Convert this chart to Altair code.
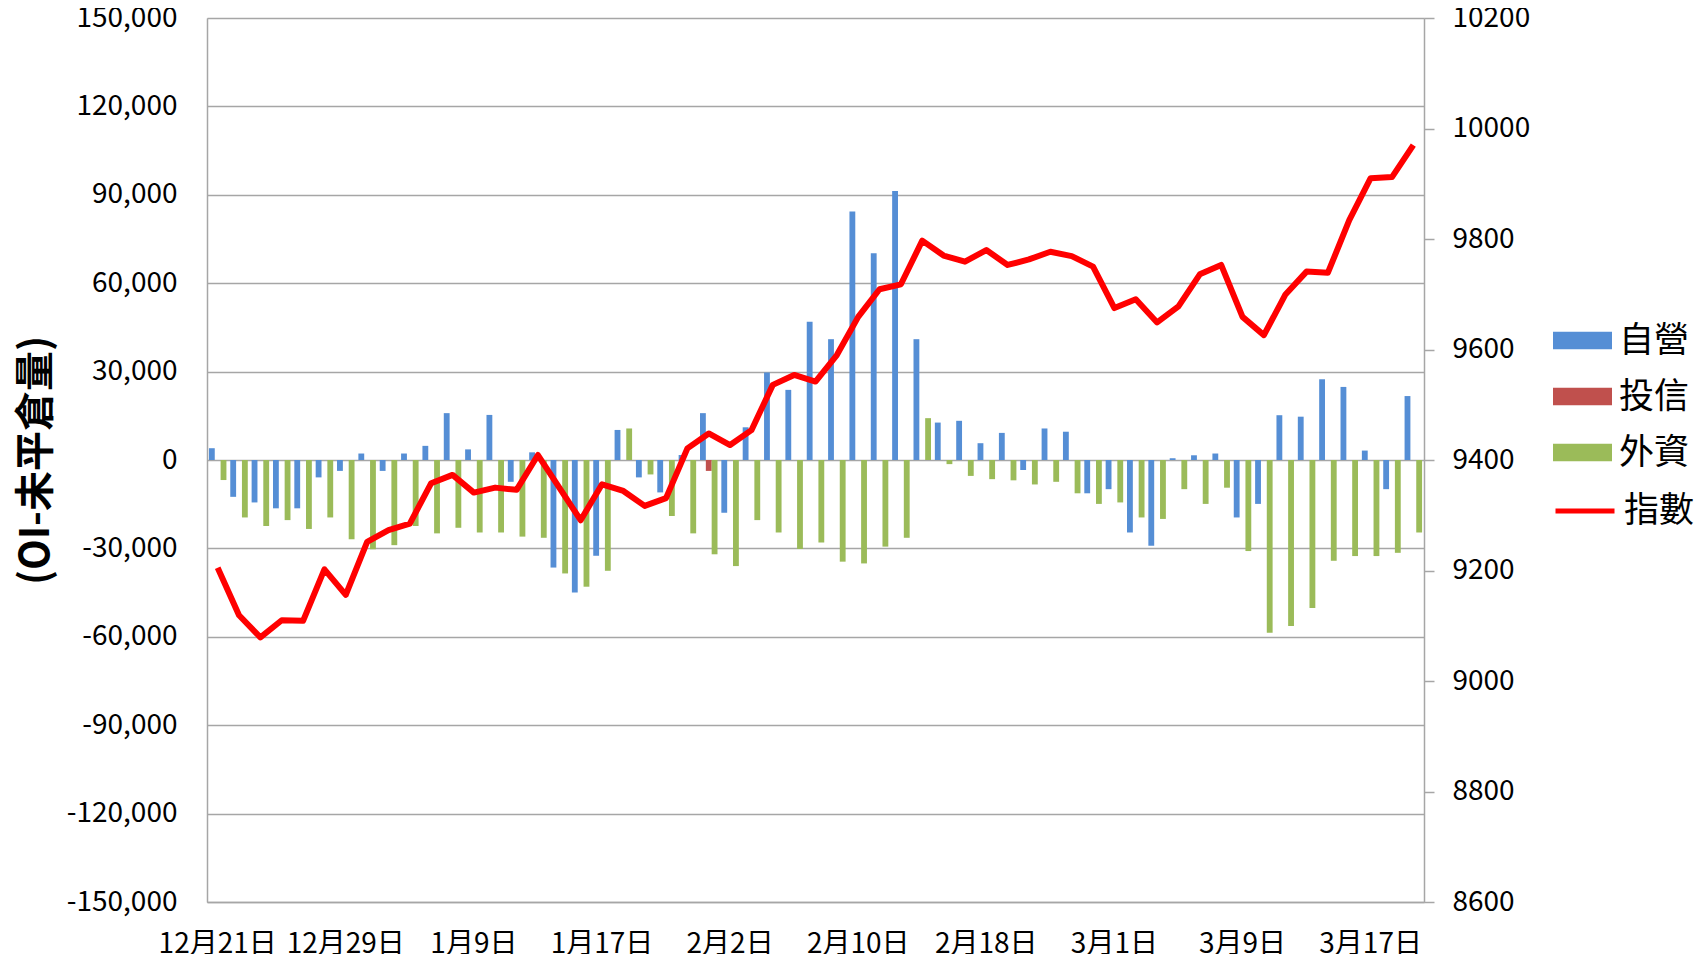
import altair as alt
import pandas as pd

dates = ["12月21日", "12月22日", "12月23日", "12月26日", "12月27日", "12月28日", "12月29日",
         "12月30日", "1月3日", "1月4日", "1月5日", "1月6日", "1月9日", "1月10日",
         "1月11日", "1月12日", "1月13日", "1月16日", "1月17日", "1月18日", "1月19日",
         "1月20日", "1月23日", "1月24日", "2月2日", "2月3日", "2月6日", "2月7日",
         "2月8日", "2月9日", "2月10日", "2月13日", "2月14日", "2月15日", "2月16日",
         "2月17日", "2月18日", "2月20日", "2月21日", "2月22日", "2月23日", "2月24日",
         "3月1日", "3月2日", "3月3日", "3月6日", "3月7日", "3月8日", "3月9日",
         "3月10日", "3月13日", "3月14日", "3月15日", "3月16日", "3月17日", "3月20日", "3月21日"]

dealer = [4000, -12500, -14400, -16400, -16400, -5900, -3700, 2200, -3700, 2200,
          4800, 15900, 3600, 15300, -7400, 2600, -36500, -45000, -32500, 10200,
          -5900, -11000, 1700, 15900, -17900, 11100, 29700, 23800, 46900, 41000,
          84300, 70200, 91300, 41000, 12700, 13300, 5700, 9200, -3400, 10700,
          9600, -11300, -9900, -24600, -29100, 600, 1600, 2200, -19500, -14900,
          15200, 14700, 27400, 24800, 3200, -9900, 21700]

trust = [0] * 23 + [-3700] + [0] * 33

foreign = [-6800, -19500, -22400, -20400, -23400, -19500, -26900, -30300, -28900, -22400,
           -24900, -23000, -24600, -24600, -26000, -26400, -38500, -43000, -37600, 10700,
           -4900, -19000, -24900, -32000, -36000, -20400, -24600, -30200, -28000, -34500,
           -35100, -29400, -26400, 14200, -1400, -5400, -6500, -6900, -8300, -7400,
           -11300, -14900, -14400, -19500, -20000, -9900, -14900, -9400, -30900, -58600,
           -56300, -50200, -34200, -32600, -32600, -31500, -24600]

index_vals = [9205, 9119, 9079, 9110, 9109, 9202, 9156, 9252, 9273, 9285,
              9358, 9373, 9341, 9350, 9346, 9409, 9350, 9291, 9356, 9344,
              9317, 9331, 9421, 9448, 9427, 9454, 9536, 9554, 9542, 9590,
              9659, 9709, 9718, 9797, 9770, 9759, 9780, 9753, 9763, 9777,
              9769, 9750, 9675, 9691, 9649, 9678, 9736, 9753, 9659, 9626,
              9699, 9741, 9739, 9834, 9910, 9912, 9970]

series_names = ["自營", "投信", "外資"]
bar_colors = ["#558ED5", "#C0504D", "#9BBB59"]
line_name = "指數"
shown_dates = [dates[i] for i in range(0, len(dates), 6)]
left_ticks = list(range(-150000, 150001, 30000))
right_ticks = list(range(8600, 10201, 200))

rows = []
for i, d in enumerate(dates):
    for s, vals in zip(series_names, [dealer, trust, foreign]):
        rows.append({"date": d, "series": s, "value": vals[i]})
bars_df = pd.DataFrame(rows)
line_df = pd.DataFrame({"date": dates, "idx": index_vals, "s": [line_name] * len(dates)})

FONT = "Noto Sans CJK TC"
GRID = "#A6A6A6"

x_enc = alt.X(
    "date:N", sort=dates, title=None,
    scale=alt.Scale(paddingInner=0.18, paddingOuter=0.09),
    axis=alt.Axis(values=shown_dates, labelAngle=0, ticks=False, tickSize=0,
                  labelPadding=28, labelFontSize=28, labelFont=FONT, labelColor="black",
                  domainColor=GRID, domainWidth=1.5, grid=False),
)

bars = alt.Chart(bars_df).mark_bar().encode(
    x=x_enc,
    xOffset=alt.XOffset("series:N", sort=series_names, scale=alt.Scale(paddingInner=0)),
    y=alt.Y("value:Q", scale=alt.Scale(domain=[-150000, 150000], nice=False, zero=False),
            axis=alt.Axis(values=left_ticks,
                          labelExpr="(datum.value < 0 ? '-' : '') + format(abs(datum.value), ',')",
                          title="(OI-未平倉量)", titleFont=FONT, titleFontSize=40,
                          titleFontWeight="bold", titleColor="black",
                          titleX=-171, titleY=442, titleAngle=-90, titleBaseline="middle",
                          titleAlign="center",
                          ticks=False, tickSize=0, labelPadding=30,
                          labelFontSize=28, labelFont=FONT, labelColor="black",
                          grid=True, gridColor=GRID, gridWidth=1.5,
                          domainColor=GRID, domainWidth=1.5)),
    color=alt.Color("series:N", sort=series_names,
                    scale=alt.Scale(domain=series_names, range=bar_colors),
                    legend=alt.Legend(title=None, orient="none", legendX=1346, legendY=293,
                                      symbolType="M-1,-0.3H1V0.3H-1Z", symbolSize=3481,
                                      symbolStrokeWidth=0, labelFont=FONT, labelFontSize=35,
                                      labelColor="black", labelOffset=7, rowPadding=8,
                                      padding=0)),
)

line = alt.Chart(line_df).mark_line(strokeWidth=6, strokeJoin="round").encode(
    x=x_enc,
    y=alt.Y("idx:Q", scale=alt.Scale(domain=[8600, 10200], nice=False, zero=False),
            axis=alt.Axis(orient="right", values=right_ticks, format="d", title=None,
                          grid=False, tickSize=10, tickColor=GRID, tickWidth=1.5,
                          labelPadding=18, labelFontSize=28, labelFont=FONT,
                          labelColor="black", domainColor=GRID, domainWidth=1.5)),
    stroke=alt.Stroke("s:N", scale=alt.Scale(domain=[line_name], range=["#FF0000"]),
                      legend=alt.Legend(title=None, orient="none", legendX=1346, legendY=461,
                                        symbolType="stroke", symbolSize=3481,
                                        symbolStrokeWidth=5, labelFont=FONT, labelFontSize=35,
                                        labelColor="black", labelOffset=7, padding=0)),
)

chart = alt.layer(bars, line).resolve_scale(
    y="independent", color="independent", stroke="independent"
).properties(
    width=1217, height=884,
    autosize=alt.AutoSizeParams(type="none"),
    padding={"left": 199, "top": 10, "right": 270, "bottom": 52},
).configure_view(strokeWidth=0).configure(background="white")

chart.save("out.html", embed_options={"renderer": "svg", "actions": False})
